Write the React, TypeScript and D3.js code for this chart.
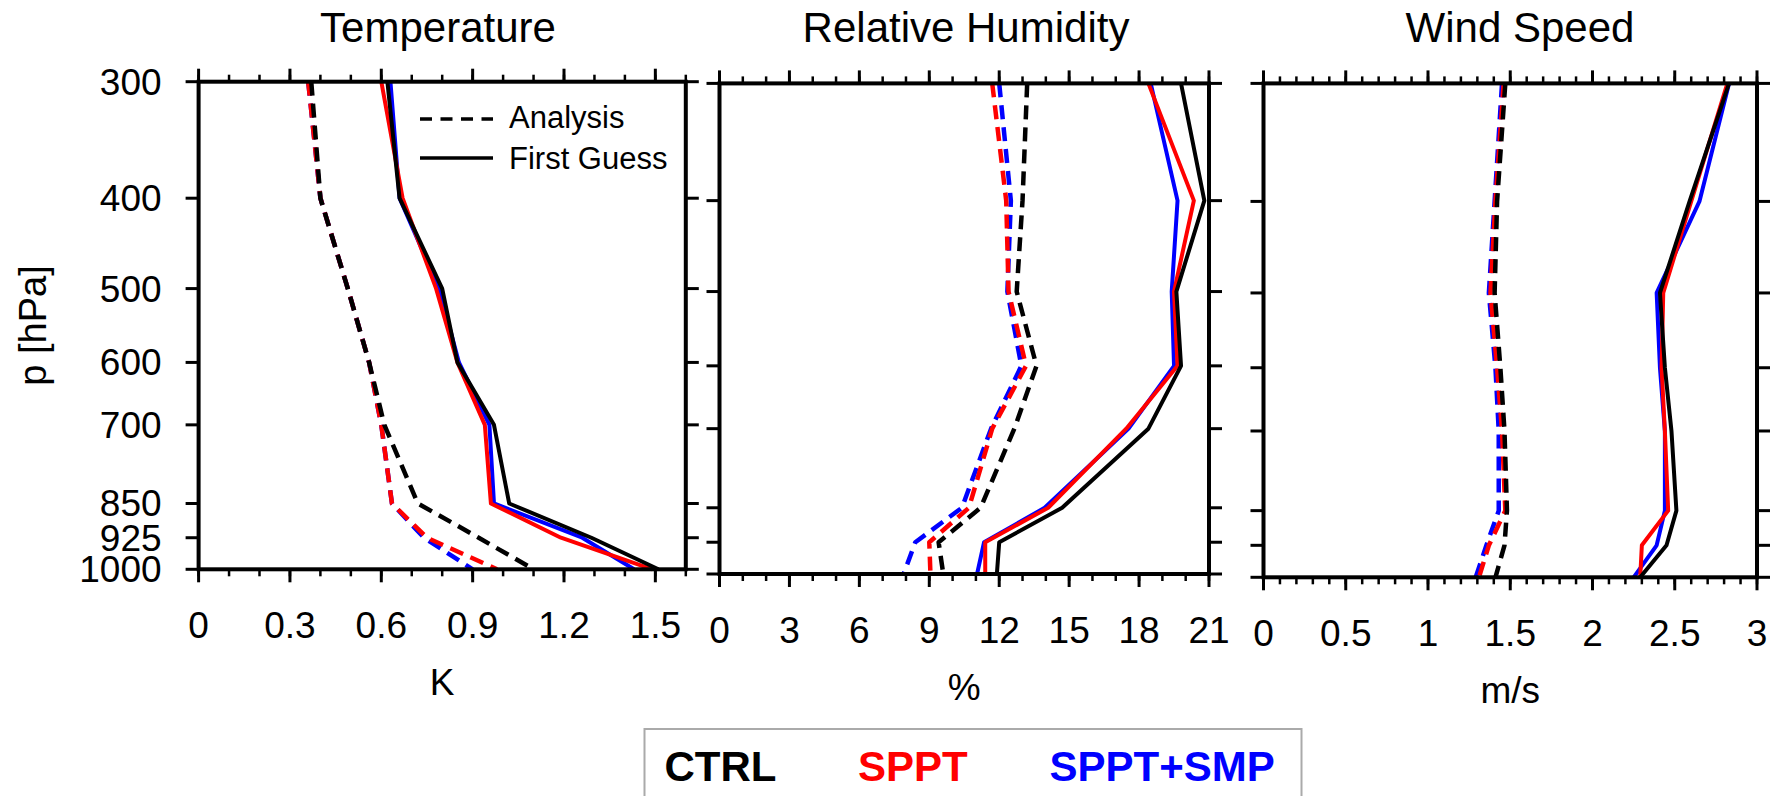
import React from "react";
import * as d3 from "d3";

const levels = [300, 400, 500, 600, 700, 850, 925, 1000];

// Temperature [K]
const tAnaCtrl = [0.37, 0.40, 0.49, 0.56, 0.61, 0.72, 0.92, 1.10];
const tAnaSppt = [0.36, 0.40, 0.49, 0.56, 0.60, 0.635, 0.75, 0.98];
const tAnaSmp = [0.36, 0.40, 0.49, 0.56, 0.60, 0.635, 0.74, 0.90];
const tFgCtrl = [0.62, 0.66, 0.80, 0.85, 0.97, 1.02, 1.29, 1.51];
const tFgSppt = [0.60, 0.67, 0.78, 0.85, 0.94, 0.96, 1.19, 1.49];
const tFgSmp = [0.63, 0.66, 0.79, 0.855, 0.955, 0.97, 1.26, 1.43];

// Relative humidity [%]
const rhAnaCtrl = [13.2, 13.0, 12.75, 13.6, 12.65, 11.2, 9.4, 9.6];
const rhAnaSppt = [11.7, 12.3, 12.4, 13.15, 11.7, 10.7, 9.0, 9.05];
const rhAnaSmp = [12.0, 12.5, 12.35, 12.95, 11.65, 10.4, 8.4, 7.9];
const rhFgCtrl = [19.8, 20.8, 19.6, 19.8, 18.4, 14.7, 12.0, 11.9];
const rhFgSppt = [18.4, 20.35, 19.5, 19.65, 17.45, 14.1, 11.4, 11.4];
const rhFgSmp = [18.5, 19.65, 19.4, 19.5, 17.55, 13.95, 11.35, 11.05];

// Wind speed [m/s]
const wsAnaCtrl = [1.47, 1.42, 1.405, 1.44, 1.465, 1.48, 1.465, 1.41];
const wsAnaSppt = [1.46, 1.41, 1.38, 1.42, 1.45, 1.47, 1.37, 1.31];
const wsAnaSmp = [1.45, 1.405, 1.37, 1.41, 1.43, 1.43, 1.355, 1.29];
const wsFgCtrl = [2.83, 2.59, 2.41, 2.44, 2.48, 2.51, 2.45, 2.29];
const wsFgSppt = [2.82, 2.60, 2.43, 2.42, 2.44, 2.46, 2.30, 2.29];
const wsFgSmp = [2.83, 2.65, 2.39, 2.41, 2.44, 2.44, 2.39, 2.25];

const titles = ["Temperature", "Relative Humidity", "Wind Speed"];
const units = ["K", "%", "m/s"];
const tTicks = [0, 0.3, 0.6, 0.9, 1.2, 1.5];
const rhTicks = [0, 3, 6, 9, 12, 15, 18, 21];
const wsTicks = [0, 0.5, 1, 1.5, 2, 2.5, 3];
const tTickLabels = ["0", "0.3", "0.6", "0.9", "1.2", "1.5"];
const rhTickLabels = ["0", "3", "6", "9", "12", "15", "18", "21"];
const wsTickLabels = ["0", "0.5", "1", "1.5", "2", "2.5", "3"];
const legendNames = ["CTRL", "SPPT", "SPPT+SMP"];
const colors = ["#000000", "#ff0000", "#0000ff"];

const FONT = "'Liberation Sans', Arial, Helvetica, sans-serif";

type PanelDef = {
  x0: number; x1: number; y0: number; y1: number;
  domain: [number, number];
  ticks: number[]; tickLabels: string[]; minor: number[];
  ana: number[][]; fg: number[][];
  titleX: number;
};

const panels: PanelDef[] = [
  {
    x0: 198.6, x1: 685.8, y0: 81.7, y1: 569.3, domain: [0, 1.6],
    ticks: tTicks, tickLabels: tTickLabels,
    minor: d3.range(0, 1.61, 0.1),
    ana: [tAnaCtrl, tAnaSppt, tAnaSmp], fg: [tFgCtrl, tFgSppt, tFgSmp],
    titleX: 438,
  },
  {
    x0: 719.5, x1: 1209, y0: 83.4, y1: 574, domain: [0, 21],
    ticks: rhTicks, tickLabels: rhTickLabels,
    minor: d3.range(0, 21.01, 1),
    ana: [rhAnaCtrl, rhAnaSppt, rhAnaSmp], fg: [rhFgCtrl, rhFgSppt, rhFgSmp],
    titleX: 966,
  },
  {
    x0: 1263.5, x1: 1757, y0: 83.4, y1: 577.3, domain: [0, 3],
    ticks: wsTicks, tickLabels: wsTickLabels,
    minor: d3.range(0, 3.001, 0.1),
    ana: [wsAnaCtrl, wsAnaSppt, wsAnaSmp], fg: [wsFgCtrl, wsFgSppt, wsFgSmp],
    titleX: 1520,
  },
];

function Panel({ p, idx }: { p: PanelDef; idx: number }) {
  const x = d3.scaleLinear().domain(p.domain).range([p.x0, p.x1]);
  const y = d3.scaleLog().domain([300, 1000]).range([p.y0, p.y1]);
  const line = (vals: number[]) =>
    d3.line<number>().x((v) => x(v)).y((_, i) => y(levels[i]))(vals) || "";
  const majLen = 13;
  const minLen = 7;
  const cx = (p.x0 + p.x1) / 2;
  const order = [2, 1, 0];
  return (
    <g>
      {order.map((k) => (
        <path key={"a" + k} d={line(p.ana[k])} fill="none" stroke={colors[k]}
          strokeWidth={4.5} strokeDasharray="14 8" strokeLinejoin="round" />
      ))}
      {order.map((k) => (
        <path key={"f" + k} d={line(p.fg[k])} fill="none" stroke={colors[k]}
          strokeWidth={4} strokeLinejoin="round" />
      ))}
      <rect x={p.x0} y={p.y0} width={p.x1 - p.x0} height={p.y1 - p.y0}
        fill="none" stroke="#000" strokeWidth={4} />
      {p.minor.map((v, i) => (
        <g key={"m" + i}>
          <line x1={x(v)} x2={x(v)} y1={p.y0} y2={p.y0 - minLen} stroke="#000" strokeWidth={2.5} />
          <line x1={x(v)} x2={x(v)} y1={p.y1} y2={p.y1 + minLen} stroke="#000" strokeWidth={2.5} />
        </g>
      ))}
      {p.ticks.map((v, i) => (
        <g key={"t" + i}>
          <line x1={x(v)} x2={x(v)} y1={p.y0} y2={p.y0 - majLen} stroke="#000" strokeWidth={3} />
          <line x1={x(v)} x2={x(v)} y1={p.y1} y2={p.y1 + majLen} stroke="#000" strokeWidth={3} />
          <text x={x(v)} y={p.y1 + 69} textAnchor="middle" fontFamily={FONT}
            fontSize={37} fill="#000">{p.tickLabels[i]}</text>
        </g>
      ))}
      {levels.map((l) => (
        <g key={"y" + l}>
          <line x1={p.x0} x2={p.x0 - majLen} y1={y(l)} y2={y(l)} stroke="#000" strokeWidth={3} />
          <line x1={p.x1} x2={p.x1 + majLen} y1={y(l)} y2={y(l)} stroke="#000" strokeWidth={3} />
          {idx === 0 && (
            <text x={p.x0 - 37} y={y(l) + 13} textAnchor="end" fontFamily={FONT}
              fontSize={37} fill="#000">{l}</text>
          )}
        </g>
      ))}
      <text x={p.titleX} y={42} textAnchor="middle" fontFamily={FONT} fontSize={42} fill="#000">
        {titles[idx]}
      </text>
      <text x={cx} y={p.y1 + 126} textAnchor="middle" fontFamily={FONT} fontSize={37} fill="#000">
        {units[idx]}
      </text>
    </g>
  );
}

export default function App() {
  const p0 = panels[0];
  const yMid = (p0.y0 + p0.y1) / 2;
  return (
    <svg width={1778} height={796} viewBox="0 0 1778 796"
      style={{ position: "absolute", left: 0, top: 0, background: "#fff", display: "block" }}>
      <rect x={0} y={0} width={1778} height={796} fill="#fff" />
      {panels.map((p, i) => <Panel key={i} p={p} idx={i} />)}
      <text transform={`translate(46,${yMid}) rotate(-90)`} textAnchor="middle"
        fontFamily={FONT} fontSize={38} fill="#000">p [hPa]</text>
      <line x1={420} x2={493} y1={119} y2={119} stroke="#000" strokeWidth={3.5} strokeDasharray="12 8.5" />
      <text x={509} y={128} fontFamily={FONT} fontSize={31} fill="#000">Analysis</text>
      <line x1={420} x2={493} y1={158} y2={158} stroke="#000" strokeWidth={3.5} />
      <text x={509} y={169} fontFamily={FONT} fontSize={31} fill="#000">First Guess</text>
      <rect x={644.5} y={729} width={657} height={90} fill="none" stroke="#aaaaaa" strokeWidth={2} />
      {legendNames.map((n, i) => (
        <text key={n} x={[664.5, 858, 1049.5][i]} y={780.5} fontFamily={FONT}
          fontWeight="bold" fontSize={42} fill={colors[i]}>{n}</text>
      ))}
    </svg>
  );
}
